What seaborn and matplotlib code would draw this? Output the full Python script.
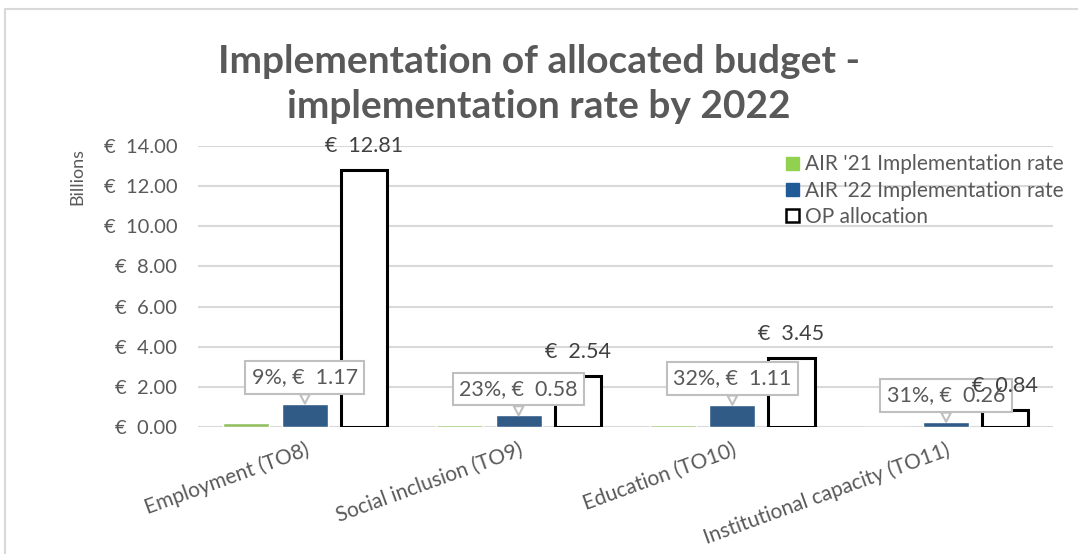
import matplotlib
matplotlib.use("Agg")
import numpy as np
import pandas as pd
import seaborn as sns
import matplotlib.pyplot as plt
from matplotlib.patches import Patch, Rectangle

# data (billions EUR)
categories = ["Employment (TO8)", "Social inclusion (TO9)", "Education (TO10)",
              "Institutional capacity (TO11)"]
series = ["AIR '21 Implementation rate", "AIR '22 Implementation rate", "OP allocation"]
air21 = [0.22, 0.10, 0.10, 0.01]
air22 = [1.17, 0.58, 1.11, 0.26]
op_alloc = [12.81, 2.54, 3.45, 0.84]
yticks = [0, 2, 4, 6, 8, 10, 12, 14]

df = pd.DataFrame({
    "category": categories * 3,
    "series": [series[0]] * 4 + [series[1]] * 4 + [series[2]] * 4,
    "value": air21 + air22 + op_alloc,
})

sns.set_style("white")
plt.rcParams['font.family'] = ['Lato', 'DejaVu Sans']
grey = "#595959"
green, blue = "#92d050", "#215b95"

fig = plt.figure(figsize=(10.78, 5.54), dpi=100)
ax = fig.add_axes([0.1837, 0.2292, 0.7931, 0.5073])

sns.barplot(data=df, x="category", y="value", hue="series",
            palette=[green, blue, "white"], width=0.83, gap=0.22,
            errorbar=None, legend=False, ax=ax, zorder=3)

# outline on OP allocation bars
for p in ax.containers[2]:
    p.set_edgecolor("black")
    p.set_linewidth(2.2)

ax.set_ylim(0, 14)
ax.set_xlim(-0.5, 3.5)
ax.set_yticks(yticks)
ax.set_yticklabels([f"€  {v:.2f}" for v in yticks], color=grey, fontsize=14.5)
ax.yaxis.grid(True, color="#d9d9d9", lw=1.5, zorder=0)
ax.tick_params(axis="y", length=0, pad=15)
ax.tick_params(axis="x", length=0, pad=9)
for lab in ax.get_xticklabels():
    lab.set_rotation(20)
    lab.set_ha("right")
    lab.set_rotation_mode("anchor")
    lab.set_color(grey)
    lab.set_fontsize(15)
ax.set_xlabel("")
ax.set_ylabel("")
sns.despine(ax=ax, left=True, bottom=True, top=True, right=True)

ax.text(-0.1415, 0.893, "Billions", transform=ax.transAxes, rotation=90,
        ha="center", va="center", color=grey, fontsize=13)

# callouts on AIR '22
for p, v, t in zip(ax.containers[1], air22, op_alloc):
    x = p.get_x() + p.get_width() / 2
    ax.annotate(f"{v / t:.0%}, €  {v:.2f}", xy=(x, v), xytext=(0, 19),
                textcoords="offset points", ha="center", va="center",
                color=grey, fontsize=15.5, zorder=5,
                bbox=dict(boxstyle="square,pad=0.3", fc="white", ec="#bfbfbf", lw=1.5),
                arrowprops=dict(arrowstyle="wedge,tail_width=0.45", fc="white",
                                ec="#bfbfbf", lw=1.5, shrinkA=0, shrinkB=0))

# labels on OP allocation (drawn above the callouts)
labs = ax.bar_label(ax.containers[2], labels=[f"€  {v:.2f}" for v in op_alloc],
                    padding=10, color="#404040", fontsize=15.5)
for t in labs:
    t.set_zorder(6)

handles = [Patch(fc=green, ec=green), Patch(fc=blue, ec=blue),
           Patch(fc="white", ec="black", lw=1.8)]
fig.legend(handles, series, loc="upper left", bbox_to_anchor=(0.712, 0.755),
           frameon=False, fontsize=15, handlelength=0.6, handleheight=0.6,
           handletextpad=0.3, labelspacing=0.3, labelcolor=grey)

fig.suptitle("Implementation of allocated budget -\nimplementation rate by 2022",
             x=0.5, y=0.92, fontsize=28, fontweight="bold", color=grey,
             linespacing=1.35)

fig.add_artist(Rectangle((0.005, -0.1), 1.2, 1.0838, transform=fig.transFigure,
                         fill=False, ec="#d9d9d9", lw=1.5))

fig.savefig("out.png", dpi=100)
